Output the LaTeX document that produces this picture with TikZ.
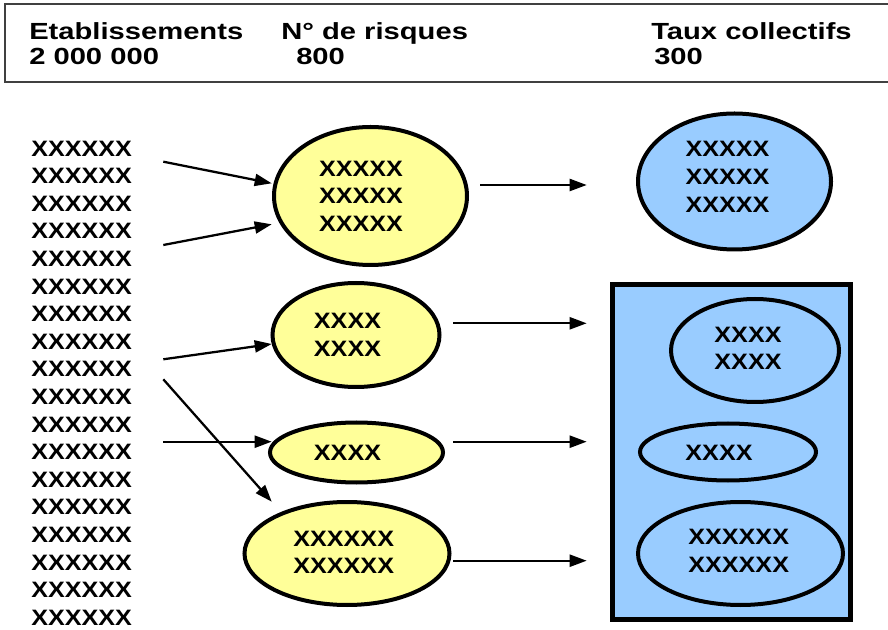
\documentclass[tikz,border=0pt]{standalone}
\usepackage{fontspec}
\setmainfont{Liberation Sans}[FakeStretch=1.13]
\newfontfamily\hdrfont{Liberation Sans}[FakeStretch=1.25]
\usetikzlibrary{arrows.meta,shapes.geometric}
\definecolor{yel}{RGB}{255,255,153}
\definecolor{blu}{RGB}{153,204,255}
\tikzset{
  ell/.style={ellipse, draw=black, line width=3pt, inner sep=0pt},
  ellsz/.style 2 args={minimum width=#1*0.75pt, minimum height=#2*0.75pt},
  yell/.style={ell, fill=yel},
  bell/.style={ell, fill=blu},
  xtxt/.style={inner sep=0pt, align=center, font=\fontsize{16.7}{20.7}\selectfont\bfseries},
  hdr/.style={inner sep=0pt, anchor=base west, font=\hdrfont\fontsize{17.5}{21}\selectfont\bfseries},
  arr/.style={line width=1.7pt, -{Triangle[length=12.75pt,width=9pt]}},
  hdrbox/.style={draw=black!75, line width=1.5pt},
  grp/.style={draw=black, line width=3.75pt, fill=blu}
}
\begin{document}
\begin{tikzpicture}[x=0.75pt,y=-0.75pt]
\useasboundingbox (0,0) rectangle (888,630);
% header
\draw[hdrbox] (888,4) -- (5,4) -- (5,82) -- (888,82);
\node[hdr] (h1) at (29,39.4) {Etablissements};
\node[hdr] (h2) at (29,65) {2 000 000};
\node[hdr] (h3) at (281,39.4) {N° de risques};
\node[hdr] (h4) at (296,65) {800};
\node[hdr] (h5) at (651,39.4) {Taux collectifs};
\node[hdr] (h6) at (654,65) {300};
% left column
\node[xtxt, anchor=west] (col) at (31,383) {XXXXXX\\XXXXXX\\XXXXXX\\XXXXXX\\XXXXXX\\XXXXXX\\XXXXXX\\XXXXXX\\XXXXXX\\XXXXXX\\XXXXXX\\XXXXXX\\XXXXXX\\XXXXXX\\XXXXXX\\XXXXXX\\XXXXXX\\XXXXXX};
% yellow ellipses
\node[yell, ellsz={193}{138}] (y1) at (370.5,196) {};
\node[xtxt] (y1t) at (361,196) {XXXXX\\XXXXX\\XXXXX};
\node[yell, ellsz={167}{104}] (y2) at (356,335) {};
\node[xtxt] (y2t) at (347.5,335) {XXXX\\XXXX};
\node[yell, ellsz={173}{60}] (y3) at (356.5,452.5) {};
\node[xtxt] (y3t) at (347.5,452.7) {XXXX};
\node[yell, ellsz={205}{103}] (y4) at (347,553.5) {};
\node[xtxt] (y4t) at (343.7,552.5) {XXXXXX\\XXXXXX};
% blue
\node[bell, ellsz={193}{136}] (b1) at (734.5,181.5) {};
\node[xtxt] (b1t) at (727.5,176.8) {XXXXX\\XXXXX\\XXXXX};
\draw[grp] (612,285) rectangle (850,619);
\node[bell, ellsz={168}{103}] (b2) at (755,350.5) {};
\node[xtxt] (b2t) at (748,348.5) {XXXX\\XXXX};
\node[bell, ellsz={176}{57}] (b3) at (728,452) {};
\node[xtxt] (b3t) at (719,452.7) {XXXX};
\node[bell, ellsz={205}{103}] (b4) at (740.5,553.5) {};
\node[xtxt] (b4t) at (738.7,550.8) {XXXXXX\\XXXXXX};
% arrow endpoints
\coordinate (s1) at (163.3,161.7); \coordinate (t1) at (271.7,183.3);
\coordinate (s2) at (163.3,245);   \coordinate (t2) at (271.7,224.3);
\coordinate (s3) at (163.3,359.3); \coordinate (t3) at (271.7,344);
\coordinate (s4) at (163.3,379.3); \coordinate (t4) at (271.7,501.7);
\coordinate (s5) at (163.3,441.7); \coordinate (t5) at (271.7,441.7);
\coordinate (r1s) at (480,185);    \coordinate (r1e) at (586.7,185);
\coordinate (r2s) at (453.3,323.3); \coordinate (r2e) at (586.7,323.3);
\coordinate (r3s) at (453.3,441.7); \coordinate (r3e) at (586.7,441.7);
\coordinate (r4s) at (453.3,560.7); \coordinate (r4e) at (586.7,560.7);
\draw[arr] (s1) -- (t1);
\draw[arr] (s2) -- (t2);
\draw[arr] (s3) -- (t3);
\draw[arr] (s4) -- (t4);
\draw[arr] (s5) -- (t5);
\draw[arr] (r1s) -- (r1e);
\draw[arr] (r2s) -- (r2e);
\draw[arr] (r3s) -- (r3e);
\draw[arr] (r4s) -- (r4e);
\end{tikzpicture}
\end{document}
